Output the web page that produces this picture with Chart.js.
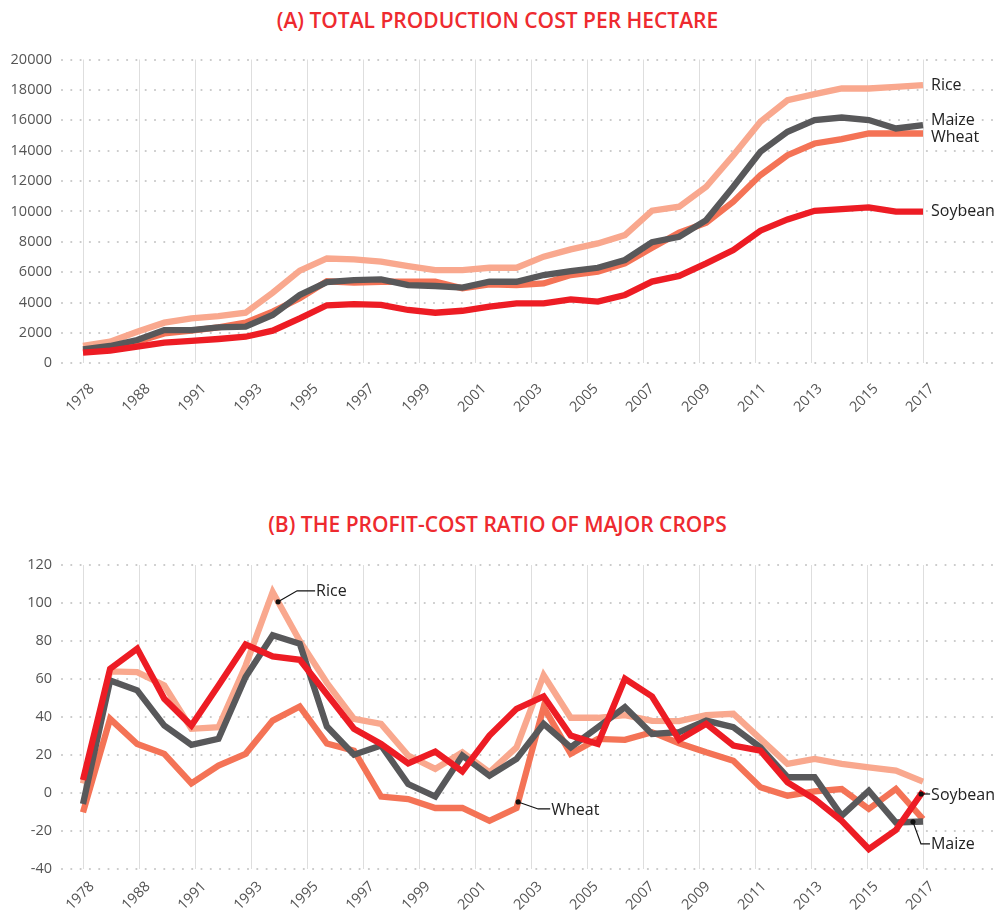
<!DOCTYPE html>
<html>
<head>
<meta charset="utf-8">
<script src="https://cdn.jsdelivr.net/npm/chart.js@4"></script>
<style>
  body { margin: 0; background: #fff; width: 995px; height: 913px; position: relative; overflow: hidden; font-family: "Open Sans", sans-serif; }
  .title { position: absolute; left: 0; width: 995px; text-align: center; color: #ee2a2f; font-weight: 600; font-size: 21px; line-height: 26px; }
  canvas { position: absolute; left: 0; }
</style>
</head>
<body>
<div class="title" style="top:7px">(A) TOTAL PRODUCTION COST PER HECTARE</div>
<canvas id="costChart" width="995" height="440" style="top:0"></canvas>
<div class="title" style="top:511px">(B) THE PROFIT-COST RATIO OF MAJOR CROPS</div>
<canvas id="ratioChart" width="995" height="500" style="top:440px"></canvas>
<script>
// years of the data points (32 points per series)
const years = ['1978','1985','1988','1989','1990','1991','1992','1993','1994','1995','1996','1997','1998',
  '1999','2000','2001','2002','2003','2004','2005','2006','2007','2008','2009','2010','2011','2012',
  '2013','2014','2015','2016','2017'];
// labels shown on the axis
const tickLabels = ['1978','1988','1991','1993','1995','1997','1999','2001','2003','2005','2007','2009','2011','2013','2015','2017'];

// (A) total production cost per hectare
const riceCost = [1140,1425,2080,2675,2960,3110,3330,4650,6100,6900,6840,6690,6400,6140,6140,6290,6290,7020,7500,7890,8440,10050,10310,11620,13700,15900,17320,17720,18090,18090,18200,18310];
const maizeCost = [920,1140,1535,2190,2190,2370,2410,3180,4500,5340,5480,5530,5150,5090,4980,5370,5370,5810,6070,6290,6800,7970,8330,9430,11620,13930,15240,16010,16180,16010,15460,15680];
const wheatCost = [770,990,1425,1970,2150,2370,2680,3400,4280,5400,5310,5370,5370,5370,4930,5200,5150,5260,5810,6030,6580,7600,8600,9250,10640,12390,13700,14470,14760,15130,15130,15130];
const soyCost = [700,830,1100,1360,1470,1600,1750,2150,2960,3820,3900,3840,3510,3330,3460,3730,3950,3950,4210,4060,4500,5380,5750,6580,7460,8730,9470,10040,10150,10260,9980,9980];

// (B) profit-cost ratio
const riceRatio = [5,64,63.6,56.6,33.8,34.6,67,105.8,80,58,39,36.4,19.7,12.7,21.4,10.9,24,62,39.6,39.6,41,38,37.8,41,41.7,28.5,15.3,17.9,15.3,13.5,11.8,6];
const maizeRatio = [-5.8,59.2,54,35.5,25.3,28.5,61,83,78.6,35,20.2,25,4.7,-1.9,19.7,9.1,17.9,36.4,24,34.6,45.2,31.1,32,38.1,34.6,24,8.3,8.3,-12,1.2,-15.5,-15];
const wheatRatio = [-10.2,39,25.8,20.6,5.1,14.4,20.6,38.1,45.5,26,22.3,-1.9,-3.2,-7.9,-7.9,-14.6,-7.9,45.2,20.6,28.5,28,32,26.2,21.4,17,3,-1.4,0.9,2.1,-8.4,2.1,-13.7];
const soyRatio = [6.9,65.4,76,49.6,35.5,56.6,78.2,71.9,70.1,52,33.8,25.8,15.6,21.8,11.4,30.2,44.3,50.8,30.2,25.8,60.1,50.8,28,36.4,25,22.3,5.6,-3.2,-14.6,-29.5,-19.5,0.9];

const colors = { Rice: '#f9a88e', Wheat: '#f47356', Maize: '#58585a', Soybean: '#ed1c24' };
const FONT = '"Open Sans", sans-serif';

function makeDatasets(rice, wheat, maize, soy) {
  // first one is drawn on top
  return [
    ['Soybean', soy], ['Maize', maize], ['Wheat', wheat], ['Rice', rice]
  ].map(([name, data]) => ({
    label: name, data: data, borderColor: colors[name], borderWidth: 6.3,
    pointRadius: 0, fill: false, tension: 0, borderJoinStyle: 'miter'
  }));
}

// dotted horizontal grid lines running to the right edge
const dotGrid = {
  id: 'dotGrid',
  beforeDatasetsDraw(chart) {
    const ys = chart.scales.y, c = chart.ctx;
    c.save();
    c.strokeStyle = '#c8c8c8';
    c.lineWidth = 2.2;
    c.lineCap = 'round';
    c.setLineDash([0, 9.3]);
    ys.ticks.forEach(t => {
      const py = Math.round(ys.getPixelForValue(t.value));
      c.beginPath();
      c.moveTo(62, py);
      c.lineTo(995, py);
      c.stroke();
    });
    c.restore();
  }
};

// names at the right end of each line
const endLabels = {
  id: 'endLabels',
  afterDatasetsDraw(chart, args, opts) {
    if (!opts.shift) return;
    const c = chart.ctx;
    c.save();
    c.font = '16px ' + FONT;
    c.fillStyle = '#222';
    c.textBaseline = 'middle';
    chart.data.datasets.forEach((ds, i) => {
      const pts = chart.getDatasetMeta(i).data;
      const p = pts[pts.length - 1];
      c.fillText(ds.label, p.x + 8, p.y + (opts.shift[ds.label] || 0));
    });
    c.restore();
  }
};

// callouts with a dot on the line and a leader
const callouts = {
  id: 'callouts',
  afterDatasetsDraw(chart, args, opts) {
    if (!opts.items) return;
    const c = chart.ctx;
    c.save();
    c.font = '16px ' + FONT;
    c.textBaseline = 'middle';
    opts.items.forEach(it => {
      const idx = chart.data.datasets.findIndex(d => d.label === it.name);
      const pts = chart.getDatasetMeta(idx).data;
      const a = pts[it.k], b = pts[it.k + 1];
      const x = a.x + (b.x - a.x) * it.t, y = a.y + (b.y - a.y) * it.t;
      c.strokeStyle = '#111';
      c.lineWidth = 1.2;
      c.beginPath();
      c.moveTo(x, y);
      it.path.forEach(([dx, dy]) => c.lineTo(x + dx, y + dy));
      c.stroke();
      c.fillStyle = '#111';
      c.beginPath();
      c.arc(x, y, 2.6, 0, Math.PI * 2);
      c.fill();
      const last = it.path[it.path.length - 1];
      c.fillStyle = '#222';
      c.fillText(it.name, x + last[0] + 1, y + last[1] + 1);
    });
    c.restore();
  }
};

function makeChart(id, datasets, yMin, yMax, yStep, pad, tickPad, extra) {
  return new Chart(document.getElementById(id), {
    type: 'line',
    data: { labels: years, datasets: datasets },
    plugins: [dotGrid, endLabels, callouts],
    options: {
      responsive: false,
      animation: false,
      devicePixelRatio: 1,
      layout: { padding: pad },
      plugins: Object.assign({ legend: { display: false }, tooltip: { enabled: false } }, extra),
      scales: {
        x: { type: 'category', labels: years, display: false, offset: false },
        xt: {
          type: 'linear', position: 'bottom', min: 0, max: 30,
          afterFit: s => { s.height = 60; },
          grid: { color: '#dedede', lineWidth: 1, drawTicks: false },
          border: { display: false },
          ticks: {
            stepSize: 2, autoSkip: false, minRotation: 45, maxRotation: 45, padding: tickPad, labelOffset: 9,
            color: '#555', font: { family: FONT, size: 14.5 },
            callback: v => tickLabels[v / 2]
          }
        },
        y: {
          min: yMin, max: yMax,
          afterFit: s => { s.width = 83; },
          grid: { display: false, drawTicks: false },
          border: { display: false },
          ticks: { stepSize: yStep, padding: 31, color: '#555', font: { family: FONT, size: 14.5 },
            callback: v => String(v) }
        }
      }
    }
  });
}

makeChart('costChart', makeDatasets(riceCost, wheatCost, maizeCost, soyCost), 0, 20000, 2000,
  { left: 0, right: 72, top: 59.5, bottom: 16.7 }, 17,
  { endLabels: { shift: { Rice: 0, Maize: -5, Wheat: 3.5, Soybean: 0 } } });

makeChart('ratioChart', makeDatasets(riceRatio, wheatRatio, maizeRatio, soyRatio), -40, 120, 20,
  { left: 0, right: 72, top: 125, bottom: 11 }, 9,
  { callouts: { items: [
    { name: 'Rice', k: 7, t: 0.2, path: [[19, -11], [37, -11]] },
    { name: 'Wheat', k: 16, t: 0.06, path: [[20, 7], [32, 7]] },
    { name: 'Soybean', k: 30, t: 0.93, path: [[9, 0]] },
    { name: 'Maize', k: 30, t: 0.63, path: [[8, 22], [17, 22]] }
  ] } });
</script>
</body>
</html>
